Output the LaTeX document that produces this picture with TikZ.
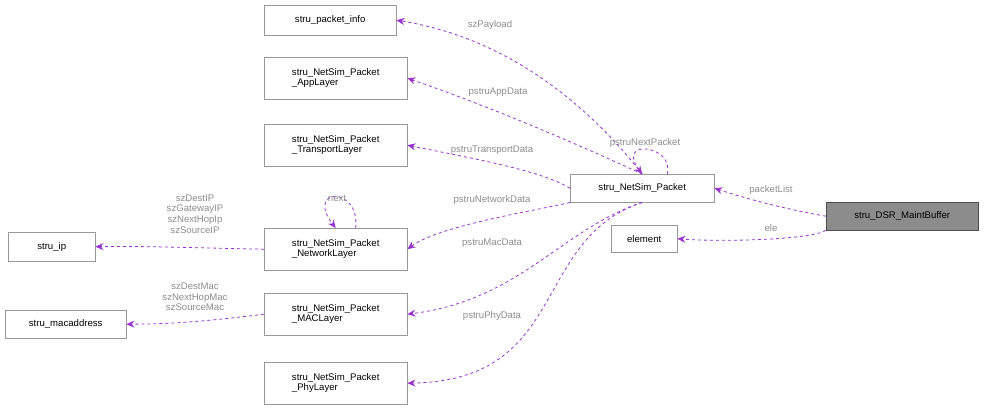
\documentclass[tikz,border=0pt]{standalone}
\usepackage{fontspec}
\setmainfont{Liberation Sans}
\usetikzlibrary{arrows.meta}
\definecolor{edgec}{HTML}{9A32CD}
\begin{document}
\begin{tikzpicture}[x=1pt,y=-1pt,font=\fontsize{9.6}{10.6}\selectfont,
 box/.style={draw=black!40,fill=white,inner sep=2pt,align=left,anchor=north west},
 edge/.style={draw=edgec,dashed,line width=0.8pt,-{Stealth[length=8pt,width=7pt]}},
 lab/.style={text=black!45,inner sep=1pt,align=center}]
\useasboundingbox (0,0) rectangle (984,411);
\node[box,minimum width=132pt,minimum height=30pt] (pinfo) at (264,5) {stru\_packet\_info};
\node[box,minimum width=143pt,minimum height=42pt] (app) at (264,57) {stru\_NetSim\_Packet\\\_AppLayer};
\node[box,minimum width=143pt,minimum height=42pt] (trans) at (264,124) {stru\_NetSim\_Packet\\\_TransportLayer};
\node[box,minimum width=143pt,minimum height=42pt] (net) at (264,228) {stru\_NetSim\_Packet\\\_NetworkLayer};
\node[box,minimum width=143pt,minimum height=42pt] (mac) at (264,293) {stru\_NetSim\_Packet\\\_MACLayer};
\node[box,minimum width=143pt,minimum height=42pt] (phy) at (264,362) {stru\_NetSim\_Packet\\\_PhyLayer};
\node[box,minimum width=87pt,minimum height=29pt] (ip) at (8,232) {stru\_ip};
\node[box,minimum width=121pt,minimum height=28pt] (macaddr) at (5,310) {stru\_macaddress};
\node[box,minimum width=144pt,minimum height=28pt] (pkt) at (570,174) {stru\_NetSim\_Packet};
\node[box,minimum width=66pt,minimum height=27pt] (elem) at (611,225) {element};
\node[box,draw=black!70,fill=black!45,minimum width=152pt,minimum height=28pt] (dsr) at (826,202) {stru\_DSR\_MaintBuffer};

\draw[edge] (pkt.north) .. controls (600,120) and (520,40) .. (pinfo.east);
\draw[edge] (pkt.north) .. controls (590,150) and (500,110) .. (app.east);
\draw[edge] (pkt.west) .. controls (540,170) and (470,158) .. (trans.east);
\draw[edge] (pkt.south west) .. controls (540,210) and (440,225) .. (net.east);
\draw[edge] (pkt.south) .. controls (560,230) and (520,300) .. (mac.east);
\draw[edge] (pkt.south) .. controls (530,240) and (570,380) .. (phy.east);
\draw[edge] (pkt.north) ++(25,0) coordinate (a1) .. controls (675,145) and (615,138) .. (pkt.north);
\draw[edge] (net.north) ++(20,0) .. controls (360,185) and (305,188) .. (net.north);
\draw[edge] (net.west) .. controls (200,248) and (150,246) .. (ip.east);
\draw[edge] (mac.west) .. controls (200,322) and (170,324) .. (macaddr.east);
\draw[edge] (dsr.west) .. controls (790,210) and (750,200) .. (pkt.east);
\draw[edge] (dsr.south west) .. controls (810,240) and (720,242) .. (elem.east);

\node[lab] at (490,25) {szPayload};
\node[lab] at (498,92) {pstruAppData};
\node[lab] at (645,143) {pstruNextPacket};
\node[lab] at (492,150) {pstruTransportData};
\node[lab] at (492,200) {pstruNetworkData};
\node[lab] at (492,243) {pstruMacData};
\node[lab] at (492,316) {pstruPhyData};
\node[lab] at (337,198) {next};
\node[lab] at (195,214) {szDestIP\\szGatewayIP\\szNextHopIp\\szSourceIP};
\node[lab] at (195,297) {szDestMac\\szNextHopMac\\szSourceMac};
\node[lab] at (771,190) {packetList};
\node[lab] at (771,228) {ele};
\end{tikzpicture}
\end{document}
